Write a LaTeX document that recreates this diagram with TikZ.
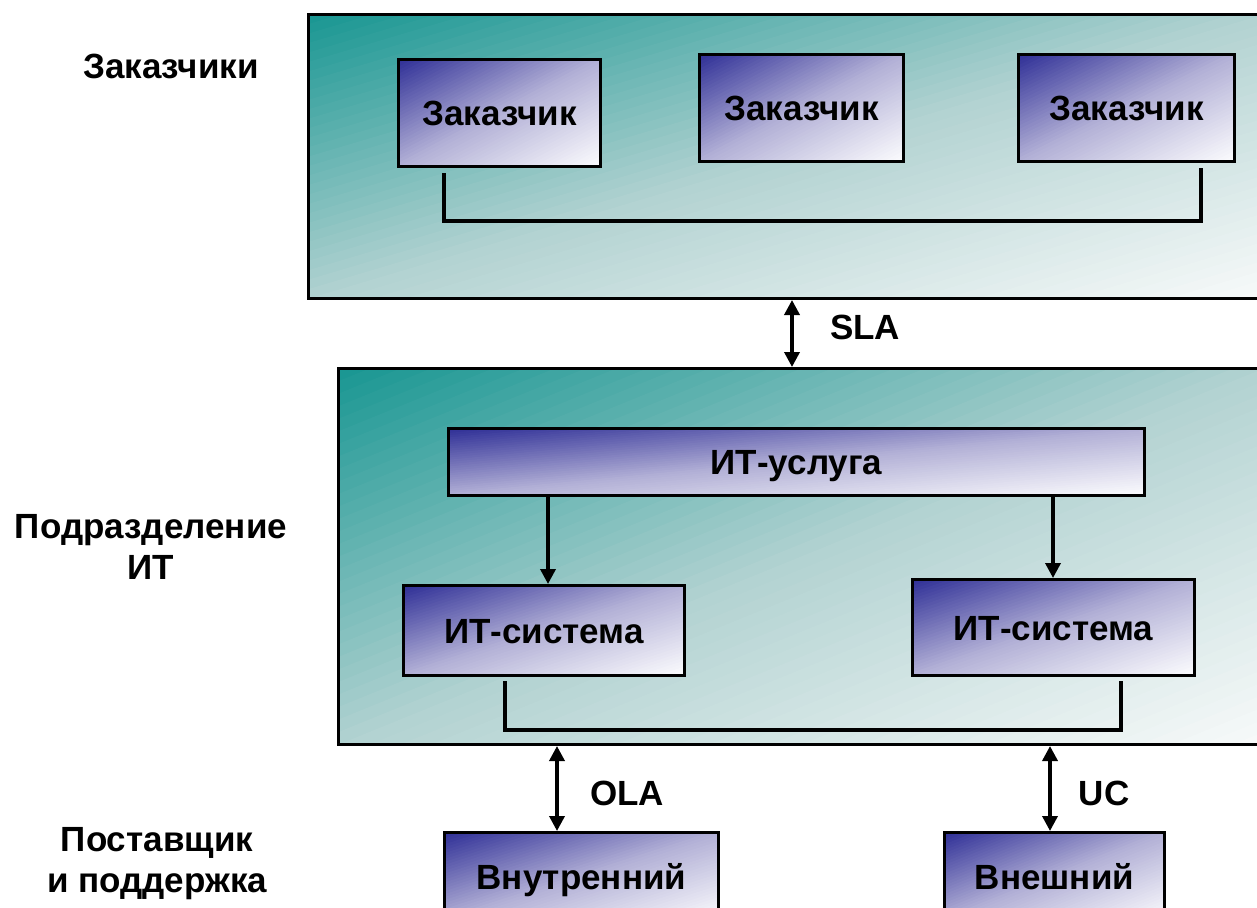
\documentclass[tikz,border=0pt]{standalone}
\usepackage{fontspec}
\setmainfont{Liberation Sans}
\usetikzlibrary{arrows.meta,calc}
\definecolor{panelA}{RGB}{24,150,146}
\definecolor{panelM}{RGB}{178,210,209}
\definecolor{panelB}{RGB}{248,250,250}
\definecolor{boxA}{RGB}{46,46,150}
\definecolor{boxM}{RGB}{178,176,214}
\definecolor{boxB}{RGB}{252,252,254}
\tikzset{
 grad/.style n args={3}{path picture={%
   \pgfpointanchor{path picture bounding box}{north west}\pgfgetlastxy{\gx}{\gy}%
   \pgfpointanchor{path picture bounding box}{south east}\pgfgetlastxy{\hx}{\hy}%
   \pgfmathsetmacro\gx{\gx}\pgfmathsetmacro\gy{\gy}%
   \pgfmathsetmacro\gw{\hx-\gx}\pgfmathsetmacro\gh{\gy-\hy}%
   \begin{scope}[x=1pt,y=1pt]
   \foreach \i in {0,...,59}{%
     \pgfmathsetmacro\ua{\i/30}%
     \ifnum\i<30
       \pgfmathsetmacro\pc{100*(\i+0.5)/30}%
       \edef\gcol{#2!\pc!#1}%
     \else
       \pgfmathsetmacro\pc{100*((\i+0.5)/30-1)}%
       \edef\gcol{#3!\pc!#2}%
     \fi
     \fill[fill=\gcol] ({\gx+(\ua+1)*\gw},{\gy+\gh}) -- ({\gx+4*\gw},{\gy+\gh})
        -- ({\gx+4*\gw},{\gy-4*\gh}) -- ({\gx-\gw},{\gy-4*\gh})
        -- ({\gx-\gw},{\gy-(\ua+1)*\gh}) -- cycle;
   }
   \end{scope}}},
}
\begin{document}
\begin{tikzpicture}[x=1pt,y=-1pt,
 panel/.style={draw=black, line width=3pt, grad={panelA}{panelM}{panelB}, inner sep=0pt, anchor=north west},
 box/.style={draw=black, line width=3pt, grad={boxA}{boxM}{boxB}, inner sep=0pt, anchor=north west, font=\fontsize{35}{42}\selectfont\bfseries, text height=25pt, text depth=0pt},
 lab/.style={font=\fontsize{35}{41}\selectfont\bfseries, align=center, inner sep=0pt},
 wire/.style={line width=4pt},
 arr/.style={line width=3.5pt, -{Triangle[length=15pt,width=15pt]}},
 dbl/.style={line width=3.5pt, {Triangle[length=15pt,width=15pt]}-{Triangle[length=15pt,width=15pt]}},
]
\useasboundingbox (0,0) rectangle (1257,907);

% panels
\node[panel, minimum width=955pt, minimum height=284pt] (tp) at (307,13) {};
\node[panel, minimum width=925pt, minimum height=376pt] (md) at (337,367) {};

% customers
\node[box, minimum width=202pt, minimum height=107pt] (c1) at (397,58) {Заказчик};
\node[box, minimum width=204pt, minimum height=107pt] (c2) at (698,53) {Заказчик};
\node[box, minimum width=216pt, minimum height=107pt] (c3) at (1017,53) {Заказчик};

% IT department
\node[box, minimum width=696pt, minimum height=67pt] (svc) at (447,427) {ИТ-услуга};
\node[box, minimum width=281pt, minimum height=90pt] (sys1) at (402,584) {ИТ-система};
\node[box, minimum width=282pt, minimum height=96pt] (sys2) at (911,578) {ИТ-система};

% suppliers
\node[box, minimum width=274pt, minimum height=88pt] (inn) at (443,831) {Внутренний};
\node[box, minimum width=220pt, minimum height=88pt] (ext) at (943,831) {Внешний};

% left labels
\node[lab] (l1) at (171,66) {Заказчики};
\node[lab] (l2) at (151,547) {Подразделение\\ИТ};
\node[lab] (l3) at (157,864) {Поставщик\\и поддержка};

% connector labels
\node[lab] (sla) at (865,327) {SLA};
\node[lab] (ola) at (627,793) {OLA};
\node[lab] (uc) at (1104,793) {UC};

% connector x positions
\coordinate (xsla) at (792,0);
\coordinate (xa1) at (548,0);
\coordinate (xa2) at (1053,0);
\coordinate (xola) at (557,0);
\coordinate (xuc) at (1050,0);

% brackets
\draw[wire] ($(c1.south west)+(47,5)$) |- ($(c3.south east)+(-35,58)$) -- ($(c3.south east)+(-35,5)$);
\draw[wire] ($(sys1.south west)+(103,4)$) |- ($(sys2.south east)+(-75,53)$) -- ($(sys2.south east)+(-75,4)$);

% arrows
\draw[dbl] (tp.south -| xsla) -- (md.north -| xsla);
\draw[arr] (svc.south -| xa1) -- (sys1.north -| xa1);
\draw[arr] (svc.south -| xa2) -- (sys2.north -| xa2);
\draw[dbl] (md.south -| xola) -- (inn.north -| xola);
\draw[dbl] (md.south -| xuc) -- (ext.north -| xuc);
\end{tikzpicture}
\end{document}
